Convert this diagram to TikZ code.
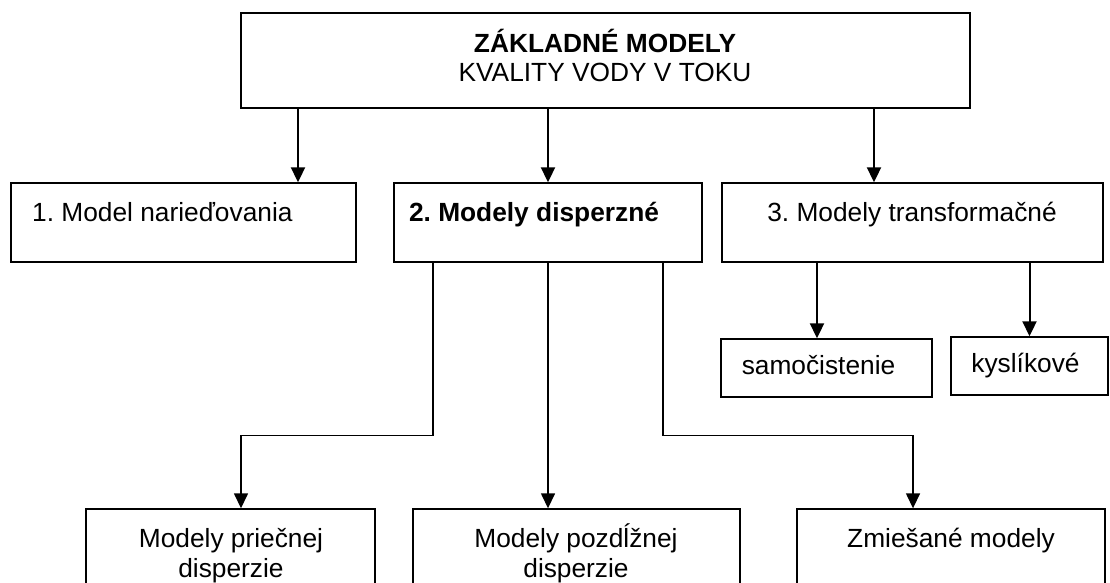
\documentclass[tikz,border=0pt]{standalone}
\usepackage{fontspec}
\setmainfont{Liberation Sans}
\usetikzlibrary{arrows.meta}
\frenchspacing

\tikzset{
  box/.style={draw, line width=1.4pt, inner sep=0pt},
  txt/.style={inner sep=0pt, anchor=base, font=\fontsize{26.3}{30}\selectfont},
  arr/.style={-{Triangle[length=15pt, width=14pt]}, line width=2pt},
  link/.style={line width=1.5pt}
}

\begin{document}
\begin{tikzpicture}[x=1pt, y=-1pt]
        \clip (0,0) rectangle (1110,583);
        % boxes
        \node [box, minimum width=729pt, minimum height=95pt] (zaklad) at (605.5,60.5) {};
        \node [box, minimum width=345pt, minimum height=79pt] (naried) at (183.5,222.5) {};
        \node [box, minimum width=308pt, minimum height=79pt] (disp) at (548,222.5) {};
        \node [box, minimum width=381pt, minimum height=79pt] (transf) at (912.5,222.5) {};
        \node [box, minimum width=211pt, minimum height=58pt] (samoc) at (826.5,368) {};
        \node [box, minimum width=157pt, minimum height=58pt] (kyslik) at (1029.5,366) {};
        \node [box, minimum width=289pt, minimum height=100pt] (prie) at (230.5,559) {};
        \node [box, minimum width=327pt, minimum height=100pt] (pozd) at (576.5,559) {};
        \node [box, minimum width=308pt, minimum height=100pt] (zmies) at (951,559) {};
        % texts
        \node [txt] (zakladA) at (605,52.5) {\bfseries ZÁKLADNÉ MODELY};
        \node [txt] (zakladB) at (605,81.5) {KVALITY VODY V TOKU};
        \node [txt, anchor=base west] (nariedT) at (32,221.5) {1. Model narieďovania};
        \node [txt] (dispT) at (534,221.5) {\bfseries 2. Modely disperzné};
        \node [txt] (transfT) at (912,221.5) {3. Modely transformačné};
        \node [txt] (samocT) at (818.5,374) {samočistenie};
        \node [txt] (kyslikT) at (1025.5,372) {kyslíkové};
        \node [txt] (prieA) at (231,547) {Modely priečnej};
        \node [txt] (prieB) at (231,577.5) {disperzie};
        \node [txt] (pozdA) at (576,547) {Modely pozdĺžnej};
        \node [txt] (pozdB) at (576,577.5) {disperzie};
        \node [txt] (zmiesT) at (951,547) {Zmiešané modely};
        % arrows
        \draw [arr] ([xshift=114.5pt]naried.north |- zaklad.south) -- ([xshift=114.5pt]naried.north);
        \draw [arr] (zaklad.south -| disp.north) -- (disp.north);
        \draw [arr] ([xshift=-38.5pt]transf.north |- zaklad.south) -- ([xshift=-38.5pt]transf.north);
        \draw [arr] ([xshift=-9.5pt]samoc.north |- transf.south) -- ([xshift=-9.5pt]samoc.north);
        \draw [arr] (transf.south -| kyslik.north) -- (kyslik.north);
        \draw [arr, link] ([xshift=-115pt]disp.south) -- ++(0,-173pt) -| ([xshift=10.5pt]prie.north);
        \draw [arr, link] (disp.south) -- (disp.south |- pozd.north);
        \draw [arr, link] ([xshift=115pt]disp.south) -- ++(0,-173pt) -| ([xshift=-38pt]zmies.north);
\end{tikzpicture}
\end{document}
